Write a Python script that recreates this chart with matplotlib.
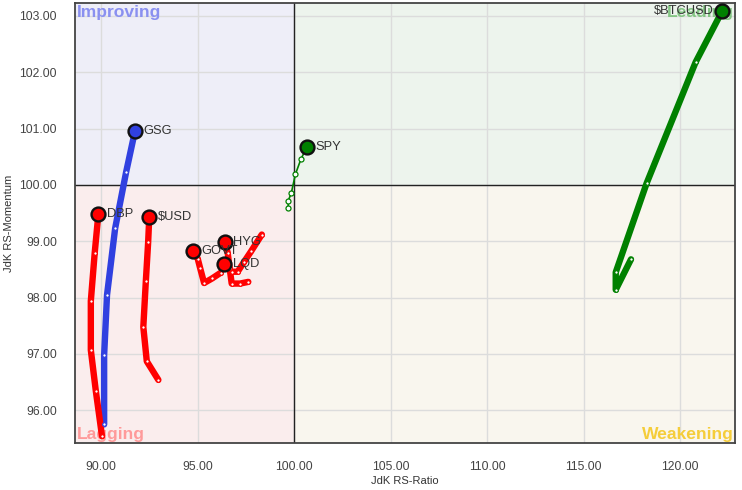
import matplotlib.pyplot as plt
from matplotlib.patches import Rectangle

plt.rcParams['font.family'] = ['Liberation Sans', 'DejaVu Sans']

# ----------------------------
# Data (tail -> head), RS-Ratio / RS-Momentum
# ----------------------------
names = ["GSG", "DBP", "$USD", "GOVT", "HYG", "LQD", "SPY", "$BTCUSD"]
colors = ["#3040e0", "#ff0000", "#ff0000", "#ff0000", "#ff0000", "#ff0000",
          "#008000", "#008000"]

gsg_x = [90.16, 90.16, 90.31, 90.73, 91.30, 91.76]
gsg_y = [95.75, 96.98, 98.05, 99.23, 100.23, 100.96]

dbp_x = [90.05, 89.73, 89.47, 89.47, 89.67, 89.86]
dbp_y = [95.54, 96.34, 97.07, 97.94, 98.79, 99.48]

usd_x = [92.97, 92.37, 92.19, 92.32, 92.44, 92.50]
usd_y = [96.54, 96.87, 97.48, 98.29, 98.98, 99.44]

govt_x = [96.19, 95.75, 95.34, 95.13, 95.01, 94.78]
govt_y = [98.44, 98.34, 98.26, 98.53, 98.69, 98.82]

hyg_x = [97.63, 97.20, 96.77, 96.66, 96.56, 96.42]
hyg_y = [98.28, 98.25, 98.25, 98.53, 98.80, 98.98]

lqd_x = [98.33, 97.77, 97.42, 97.08, 96.77, 96.39]
lqd_y = [99.12, 98.82, 98.64, 98.46, 98.46, 98.59]

spy_x = [99.70, 99.70, 99.86, 100.07, 100.36, 100.66]
spy_y = [99.60, 99.72, 99.86, 100.19, 100.46, 100.67]

btc_x = [117.46, 116.67, 116.67, 118.27, 120.81, 122.19]
btc_y = [98.68, 98.14, 98.45, 100.03, 102.18, 103.09]

xs = [gsg_x, dbp_x, usd_x, govt_x, hyg_x, lqd_x, spy_x, btc_x]
ys = [gsg_y, dbp_y, usd_y, govt_y, hyg_y, lqd_y, spy_y, btc_y]
widths = [4.6, 4.6, 4.6, 4.6, 4.6, 4.6, 1.2, 4.6]

x_ticks = [90, 95, 100, 105, 110, 115, 120]
y_ticks = [96, 97, 98, 99, 100, 101, 102, 103]

# ----------------------------
# Figure
# ----------------------------
fig = plt.figure(figsize=(7.42, 4.90), dpi=100)
ax = fig.add_axes([75 / 742, 47 / 490, 660 / 742, 440 / 490])

x0, x1 = 88.65, 122.85
y0, y1 = 95.42, 103.23
ax.set_xlim(x0, x1)
ax.set_ylim(y0, y1)

# quadrant backgrounds
quads = [
    (x0, 100, 100 - x0, y1 - 100, "#eeeef8"),   # improving
    (100, 100, x1 - 100, y1 - 100, "#edf4ed"),  # leading
    (x0, y0, 100 - x0, 100 - y0, "#faeded"),    # lagging
    (100, y0, x1 - 100, 100 - y0, "#f9f6ee"),   # weakening
]
for qx, qy, qw, qh, qc in quads:
    ax.add_patch(Rectangle((qx, qy), qw, qh, facecolor=qc, edgecolor="none", zorder=0))

ax.set_xticks(x_ticks)
ax.set_yticks(y_ticks)
ax.set_xticklabels([f"{v:.2f}" for v in x_ticks])
ax.set_yticklabels([f"{v:.2f}" for v in y_ticks])
ax.grid(True, color="#dcdcdc", linewidth=1.0, zorder=1)
ax.set_axisbelow(True)
ax.tick_params(length=0, labelsize=8.7, labelcolor="#444444", pad=13)
ax.axvline(100, color="#222222", linewidth=1.0, zorder=2)
ax.axhline(100, color="#222222", linewidth=1.0, zorder=2)

for s in ax.spines.values():
    s.set_color("#444444")
    s.set_linewidth(1.3)

ax.set_xlabel("JdK RS-Ratio", fontsize=8, color="#333333", labelpad=2)
ax.set_ylabel("JdK RS-Momentum", fontsize=8, color="#333333", labelpad=4)

# quadrant labels
qfont = dict(fontsize=12.6, fontweight="bold", zorder=3)
ax.text(x0 + 0.12, y1 - 0.03, "Improving", color="#8a90f0", ha="left", va="top", **qfont)
ax.text(x1 - 0.08, y1 - 0.03, "Leading", color="#84c684", ha="right", va="top", **qfont)
ax.text(x0 + 0.12, y0 + 0.02, "Lagging", color="#ff9a9a", ha="left", va="bottom", **qfont)
ax.text(x1 - 0.08, y0 + 0.02, "Weakening", color="#f5cd3a", ha="right", va="bottom", **qfont)

# trails
for name, c, tx, ty, lw in zip(names, colors, xs, ys, widths):
    ax.plot(tx, ty, color=c, linewidth=lw, solid_capstyle="round",
            solid_joinstyle="round", zorder=4)
    ms = 2.6 if lw > 2 else 3.6
    ax.plot(tx[:-1], ty[:-1], linestyle="none", marker="o", markersize=ms,
            markerfacecolor="white", markeredgecolor=c, markeredgewidth=0.9, zorder=5)
    ax.plot(tx[-1], ty[-1], marker="o", markersize=10, markerfacecolor=c,
            markeredgecolor="#111111", markeredgewidth=1.7, zorder=6)
    if name == "$BTCUSD":
        ax.annotate(name, (tx[-1], ty[-1]), xytext=(-6, 0), textcoords="offset points",
                    ha="right", va="center", fontsize=9.3, color="#333333", zorder=7)
    else:
        ax.annotate(name, (tx[-1], ty[-1]), xytext=(6, 0), textcoords="offset points",
                    ha="left", va="center", fontsize=9.3, color="#333333", zorder=7)

fig.savefig("out.png", dpi=100, facecolor="white")
